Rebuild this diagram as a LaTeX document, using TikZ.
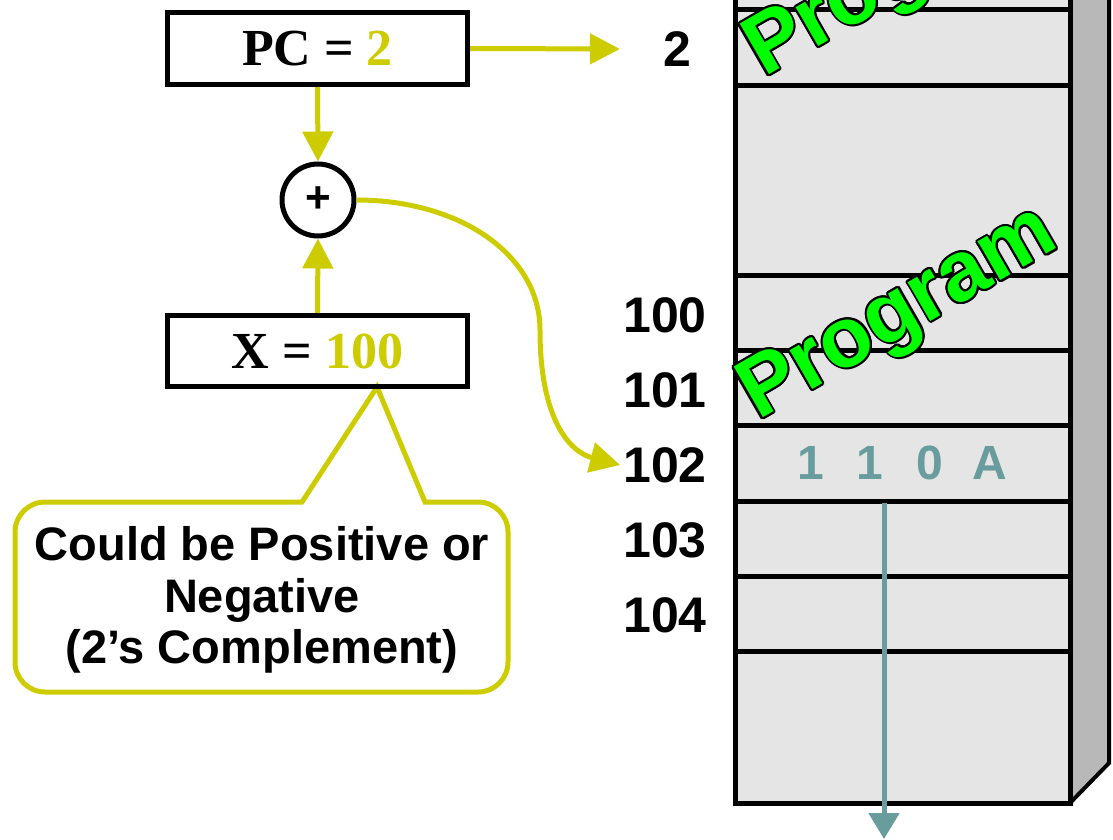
\documentclass[tikz,border=0pt]{standalone}
\usepackage{fontspec}
\setmainfont{Liberation Serif}
\newfontfamily\arialf{Liberation Sans}
\usepackage{contour}
\contourlength{2pt}
\usetikzlibrary{arrows.meta,calc}
\definecolor{ylw}{HTML}{CCCC00}
\definecolor{tealc}{HTML}{699C9C}
\definecolor{memfill}{HTML}{E5E5E5}
\definecolor{sidefill}{HTML}{B8B8B8}
\definecolor{progc}{HTML}{00FF00}
\begin{document}
\begin{tikzpicture}[x=1pt,y=-1pt,
  box/.style={draw=black, line width=5pt, minimum width=300pt, minimum height=72pt, inner sep=0pt,
    font=\fontsize{52}{60}\selectfont\bfseries},
  yarrow/.style={draw=ylw, line width=5pt, -{Triangle[length=30pt,width=30pt]}},
  tarrow/.style={draw=tealc, line width=5pt, -{Triangle[length=26pt,width=30pt]}},
  addr/.style={inner sep=0pt, font=\arialf\bfseries\fontsize{50}{60}\selectfont},
  memline/.style={line width=5pt},
  progtext/.style={inner sep=0pt, anchor=base west, rotate=30,
    font=\arialf\bfseries\fontsize{85}{90}\selectfont},
  callout/.style={draw=ylw, fill=white, line width=5pt}]
\useasboundingbox (0,0) rectangle (1113,840);
\clip (0,0) rectangle (1113,840);

% memory block
\fill[memfill] (735,-10) rectangle (1070,803);
\filldraw[fill=sidefill, line width=4pt] (1070,-10) -- (1109,-10) -- (1109,763) -- (1070,803);
\draw[line width=5pt] (735,-10) -- (735,803) -- (1070,803) -- (1070,-10);
\foreach \yy in {10,86,275,350,425,501,576,651}
  \draw[memline] (735,\yy) -- (1073,\yy);

% Program labels
\node[progtext] (prog1) at (764,78) {{\color{progc}\contour{black}{Program}}};
\node[progtext] (prog2) at (758,421) {{\color{progc}\contour{black}{Program}}};

% memory contents
\node[inner sep=0pt, text=tealc, font=\arialf\bfseries\fontsize{48}{58}\selectfont] (code) at (902,463)
  {1\hspace{33pt}1\hspace{33pt}0\hspace{29pt}A};
\coordinate (tstart) at (884,503);
\coordinate (tend) at (884,839);
\draw[tarrow] (tstart) -- (tend);

% addresses
\node[addr] (a2) at (677,49) {2};
\node[addr] (a100) at (665,315) {100};
\node[addr] (a101) at (665,390) {101};
\node[addr] (a102) at (665,465) {102};
\node[addr] (a103) at (665,540) {103};
\node[addr] (a104) at (665,615) {104};

% callout
\draw[callout] (377,387) -- (302,502) [rounded corners=30pt] -- (15,502) -- (15,692) -- (508,692) -- (508,502) [sharp corners] -- (425,502) -- cycle;
\node[align=center, inner sep=0pt, font=\arialf\bfseries\fontsize{47}{51.5}\selectfont] (ctext) at (262,600)
  {Could be Positive or\\Negative\\(2’s Complement)};

% registers and adder
\node[box] (pc) at (317.5,48.5) {PC = \textcolor{ylw}{2}};
\node[box, minimum height=71pt] (xr) at (317.5,351) {X = \textcolor{ylw}{100}};
\node[circle, draw=black, line width=5pt, minimum size=72pt, inner sep=0pt,
  font=\arialf\bfseries\fontsize{44}{50}\selectfont] (plus) at (318,200) {+};

% connectors
\draw[yarrow] (pc.east) -- ($(a2.west)+(-43,0)$);
\draw[yarrow] (pc.south) -- (plus.north);
\draw[yarrow] (xr.north) -- (plus.south);
\draw[yarrow] (plus.east) .. controls (460,200) and (540,255) .. (540,330)
  .. controls (540,420) and (570,452) .. ($(a102.west)+(-3,0)$);
\end{tikzpicture}
\end{document}
